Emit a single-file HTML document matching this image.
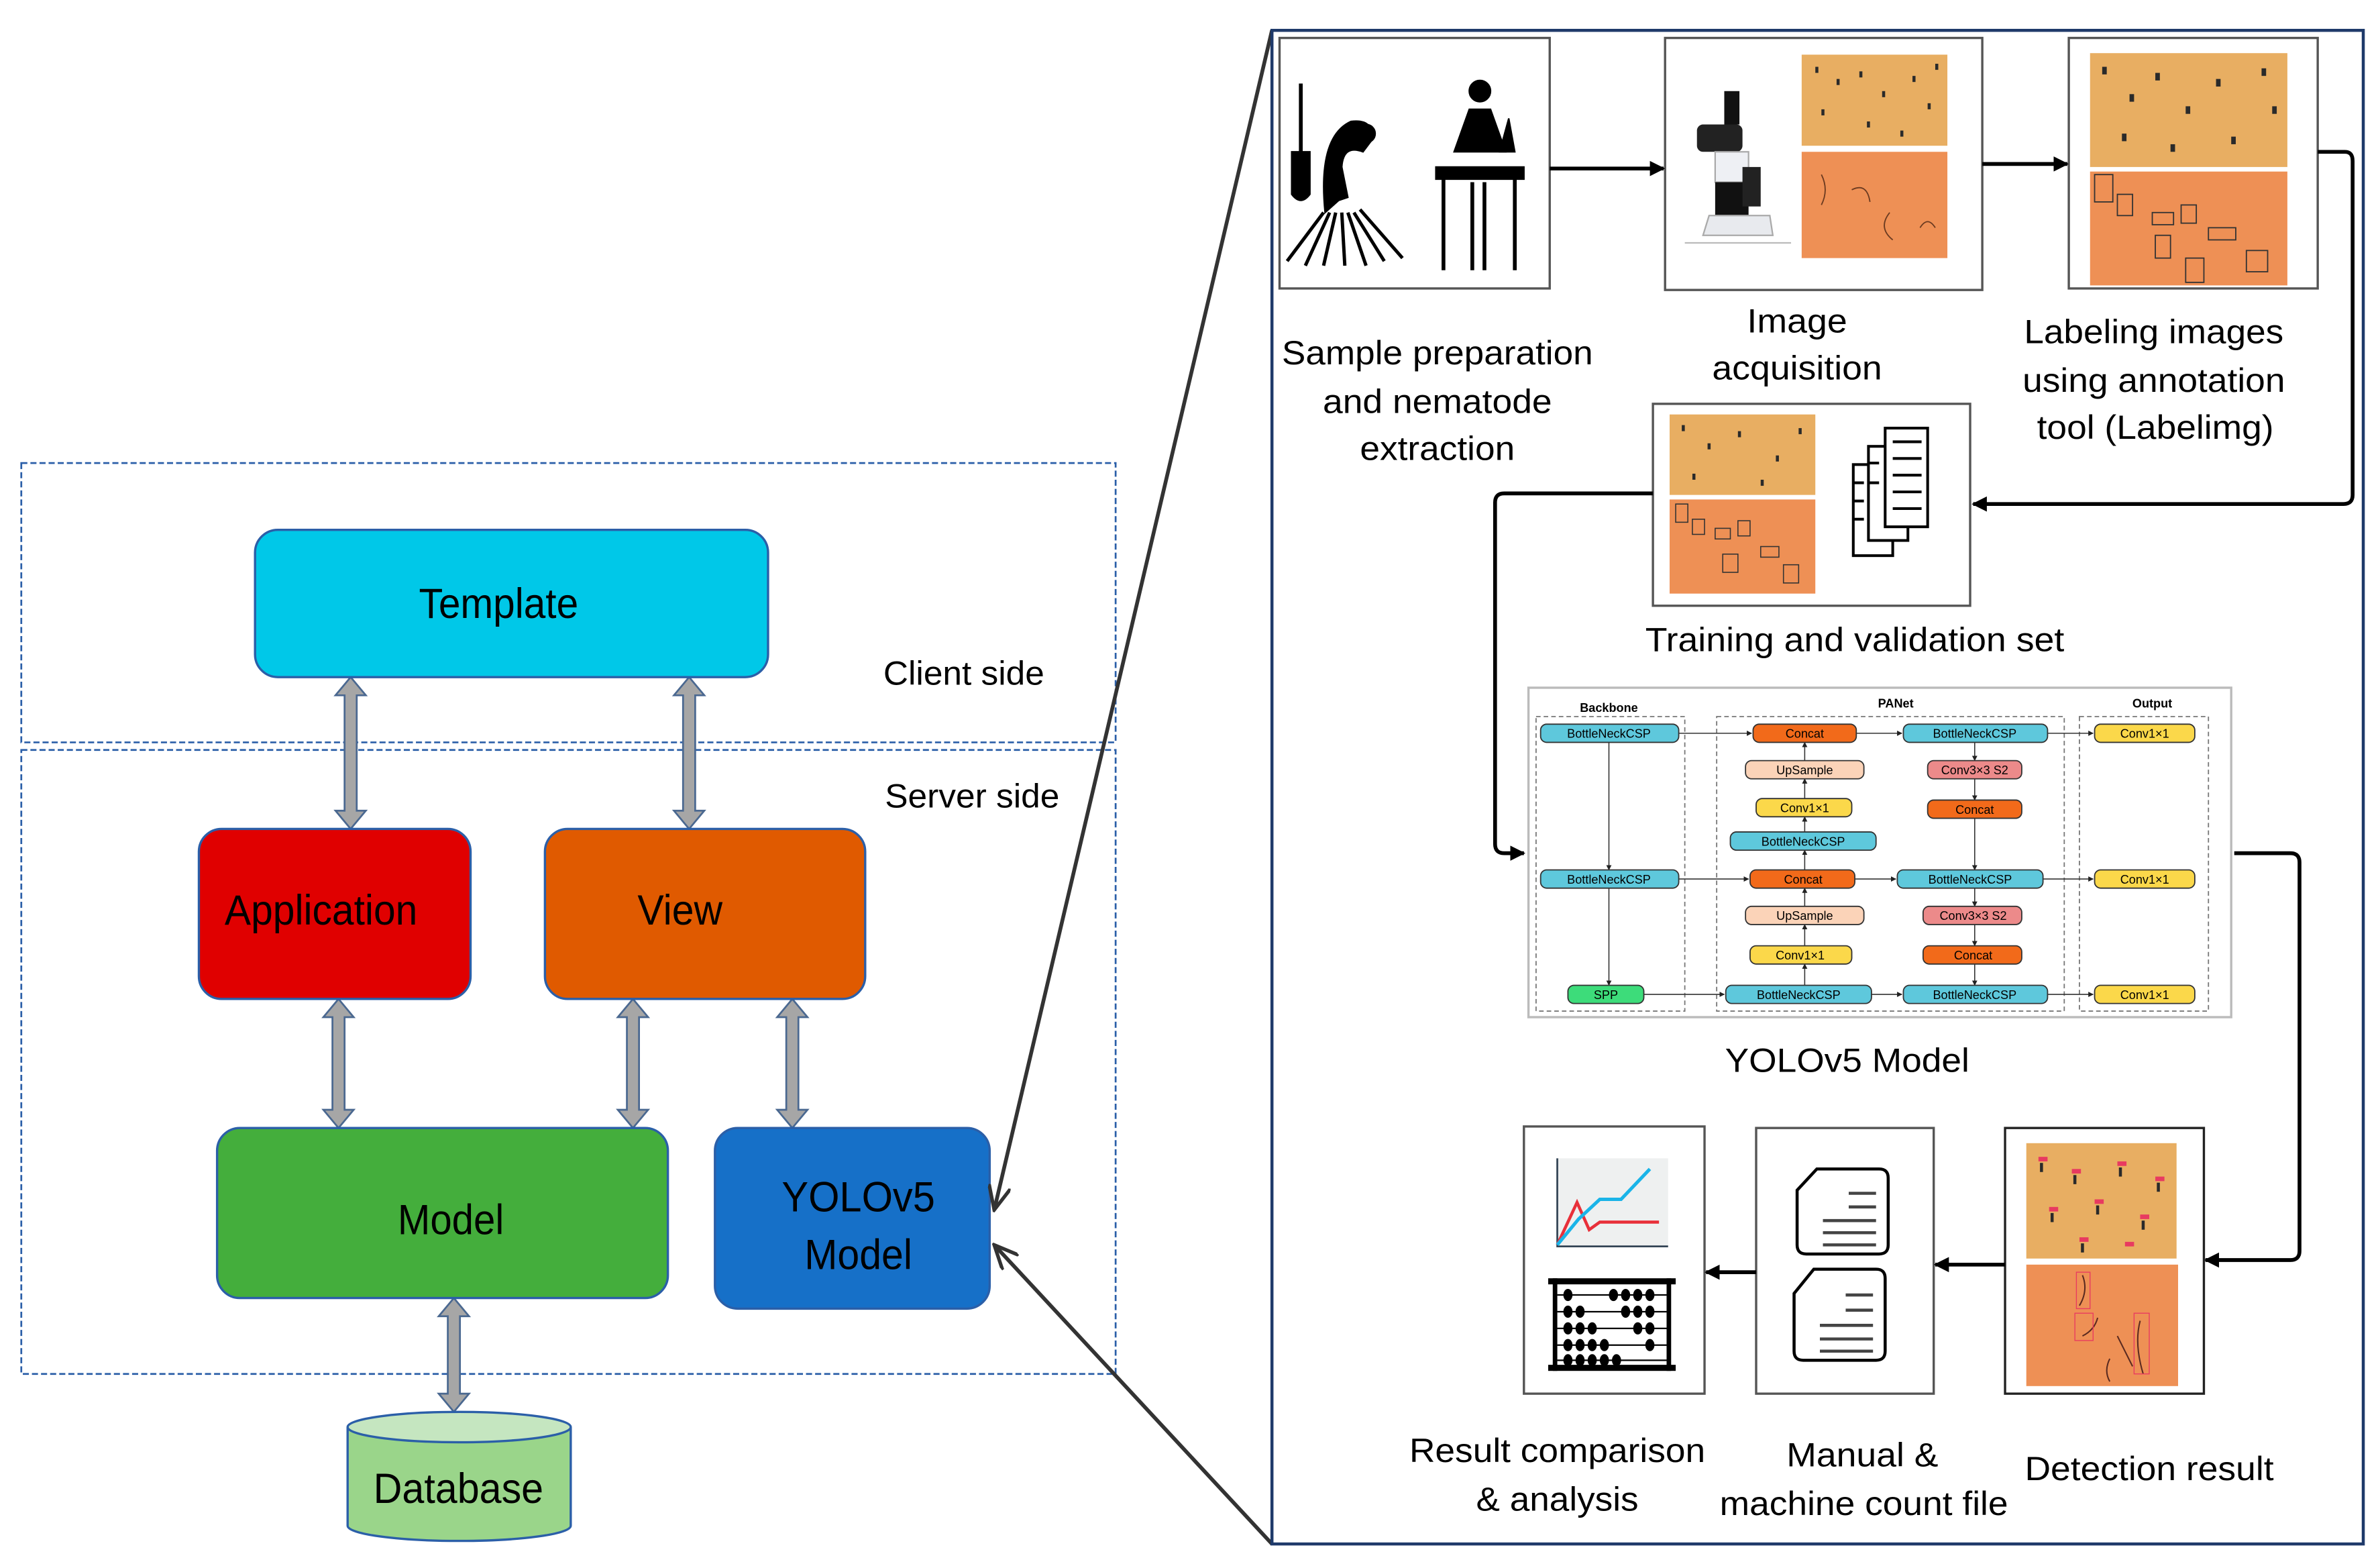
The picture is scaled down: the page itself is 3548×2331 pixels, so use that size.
<!DOCTYPE html>
<html><head><meta charset="utf-8"><style>
html,body{margin:0;padding:0;background:#fff}
svg{display:block}
text{font-family:"Liberation Sans",Arial,sans-serif;fill:#000}
</style></head><body>
<svg width="3548" height="2331" viewBox="0 0 1568 1030.2" xmlns="http://www.w3.org/2000/svg">
<defs>
<marker id="ah" viewBox="0 0 10 10" refX="9" refY="5" markerWidth="4" markerHeight="4" orient="auto"><path d="M0,0 L10,5 L0,10 z" fill="#000"/></marker>
<marker id="ag" viewBox="0 0 12 10" refX="11" refY="5" markerWidth="7" markerHeight="6" orient="auto"><path d="M0,0 L11,5 L0,10" fill="none" stroke="#333" stroke-width="1.6"/></marker>
<marker id="sm" viewBox="0 0 10 10" refX="9" refY="5" markerWidth="5" markerHeight="5" orient="auto"><path d="M0,0 L10,5 L0,10 z" fill="#222"/></marker>
</defs>

<!-- LEFT: dashed regions -->
<rect x="14" y="305" width="721" height="184" fill="none" stroke="#2b5fa8" stroke-width="1.2" stroke-dasharray="4,2"/>
<rect x="14" y="494" width="721" height="411" fill="none" stroke="#2b5fa8" stroke-width="1.2" stroke-dasharray="4,2"/>

<!-- arrows -->
<g fill="#a6a6a6" stroke="#4a6890" stroke-width="1.2">
<polygon points="231,446 241,458 235,458 235,534 241,534 231,546 221,534 227,534 227,458 221,458"/>
<polygon points="454,446 464,458 458,458 458,534 464,534 454,546 444,534 450,534 450,458 444,458"/>
<polygon points="223,658 233,670 227,670 227,731 233,731 223,743 213,731 219,731 219,670 213,670"/>
<polygon points="417,658 427,670 421,670 421,731 427,731 417,743 407,731 413,731 413,670 407,670"/>
<polygon points="522,658 532,670 526,670 526,731 532,731 522,743 512,731 518,731 518,670 512,670"/>
<polygon points="299,855 309,867 303,867 303,918 309,918 299,930 289,918 295,918 295,867 289,867"/>
</g>

<!-- boxes -->
<rect x="168" y="349" width="338" height="97" rx="15" fill="#00c8e8" stroke="#2b5fa8" stroke-width="1.5"/>
<rect x="131" y="546" width="179" height="112" rx="15" fill="#e00000" stroke="#2b5fa8" stroke-width="1.5"/>
<rect x="359" y="546" width="211" height="112" rx="15" fill="#e05a00" stroke="#2b5fa8" stroke-width="1.5"/>
<rect x="143" y="743" width="297" height="112" rx="15" fill="#44ae3c" stroke="#2b5fa8" stroke-width="1.5"/>
<rect x="471" y="743" width="181" height="119" rx="15" fill="#1670c8" stroke="#2b5fa8" stroke-width="1.5"/>
<!-- database -->
<path d="M229,940 L229,1005 A73.5,10 0 0 0 376,1005 L376,940" fill="#9ad58a" stroke="#2b5fa8" stroke-width="1.5"/>
<ellipse cx="302.5" cy="940" rx="73.5" ry="10" fill="#c5e6c0" stroke="#2b5fa8" stroke-width="1.5"/>

<g font-size="28">
<text x="276" y="407" textLength="105" lengthAdjust="spacingAndGlyphs">Template</text>
<text x="148" y="609" textLength="127" lengthAdjust="spacingAndGlyphs">Application</text>
<text x="420" y="609" textLength="56" lengthAdjust="spacingAndGlyphs">View</text>
<text x="262" y="813" textLength="70" lengthAdjust="spacingAndGlyphs">Model</text>
<text x="515" y="798" textLength="101" lengthAdjust="spacingAndGlyphs">YOLOv5</text>
<text x="530" y="836" textLength="71" lengthAdjust="spacingAndGlyphs">Model</text>
<text x="246" y="990" textLength="112" lengthAdjust="spacingAndGlyphs">Database</text>
</g>
<g font-size="22">
<text x="582" y="451" textLength="106" lengthAdjust="spacingAndGlyphs">Client side</text>
<text x="583" y="532" textLength="115" lengthAdjust="spacingAndGlyphs">Server side</text>
</g>

<!-- zoom lines -->
<line x1="838" y1="20" x2="655" y2="797" stroke="#333" stroke-width="2.5" marker-end="url(#ag)"/>
<line x1="838" y1="1017" x2="655" y2="820" stroke="#333" stroke-width="2.5" marker-end="url(#ag)"/>

<!-- RIGHT panel -->
<rect x="838" y="20" width="719" height="997" fill="none" stroke="#1f3a6a" stroke-width="2"/>

<!-- box1: icons -->
<rect x="843" y="25" width="178" height="165" fill="#fff" stroke="#555" stroke-width="1.5"/>
<g fill="#000" stroke="#000">
<line x1="857" y1="55" x2="857" y2="100" stroke-width="2.5"/>
<path d="M851,100 L863,100 L863,128 Q857,136 851,128 Z"/>
<path d="M873,140 Q868,90 890,80 Q905,78 904,92 L898,100 Q885,95 884,110 L888,130 L882,132 Z"/>
<circle cx="900" cy="88" r="6"/>
<g stroke-width="2.2" fill="none"><line x1="872" y1="140" x2="848" y2="172"/><line x1="876" y1="140" x2="860" y2="175"/><line x1="880" y1="140" x2="872" y2="175"/><line x1="884" y1="140" x2="886" y2="175"/><line x1="888" y1="140" x2="900" y2="175"/><line x1="892" y1="140" x2="912" y2="172"/><line x1="896" y1="138" x2="924" y2="170"/></g>
<circle cx="975" cy="60" r="7"/>
<path d="M958,100 L968,72 L982,72 L992,100 Z"/>
<path d="M988,100 L994,78 L998,100 Z"/>
<rect x="946" y="110" width="58" height="8"/>
<g stroke-width="2.5"><line x1="951" y1="118" x2="951" y2="178"/><line x1="998" y1="118" x2="998" y2="178"/><line x1="970" y1="120" x2="970" y2="178"/><line x1="978" y1="120" x2="978" y2="178"/></g>
</g>

<!-- box2 -->
<rect x="1097" y="25" width="209" height="166" fill="#fff" stroke="#555" stroke-width="1.5"/>
<g>
<rect x="1136" y="60" width="10" height="22" fill="#111"/>
<rect x="1118" y="82" width="30" height="18" rx="4" fill="#222"/>
<rect x="1130" y="100" width="22" height="20" fill="#eef0f4" stroke="#aaa"/>
<rect x="1130" y="120" width="22" height="22" fill="#111"/>
<rect x="1148" y="110" width="12" height="26" fill="#222"/>
<path d="M1126,142 L1166,142 L1168,155 L1122,155 Z" fill="#e8eaee" stroke="#aaa"/>
<line x1="1110" y1="160" x2="1180" y2="160" stroke="#bbb"/>
</g>
<rect x="1187" y="36" width="96" height="60" fill="#e8ae62"/>
<rect x="1187" y="100" width="96" height="70" fill="#ee9055"/>
<g fill="#2a2a2a">
<rect x="1196" y="44" width="2" height="4"/><rect x="1210" y="52" width="2" height="4"/><rect x="1225" y="47" width="2" height="4"/><rect x="1240" y="60" width="2" height="4"/><rect x="1260" y="50" width="2" height="4"/><rect x="1270" y="68" width="2" height="4"/><rect x="1200" y="72" width="2" height="4"/><rect x="1230" y="80" width="2" height="4"/><rect x="1252" y="86" width="2" height="4"/><rect x="1275" y="42" width="2" height="4"/>
</g>
<g stroke="#6a3a20" fill="none" stroke-width="0.8"><path d="M1200,115 q5,10 0,20"/><path d="M1220,125 q10,-5 12,8"/><path d="M1245,140 q-8,10 2,18"/><path d="M1265,150 q5,-8 10,0"/></g>

<!-- box3 -->
<rect x="1363" y="25" width="164" height="165" fill="#fff" stroke="#555" stroke-width="1.5"/>
<rect x="1377" y="35" width="130" height="75" fill="#e8ae62"/>
<rect x="1377" y="113" width="130" height="75" fill="#ee9055"/>
<g fill="#2a2a2a">
<rect x="1385" y="44" width="3" height="5"/><rect x="1403" y="62" width="3" height="5"/><rect x="1420" y="48" width="3" height="5"/><rect x="1440" y="70" width="3" height="5"/><rect x="1460" y="52" width="3" height="5"/><rect x="1490" y="45" width="3" height="5"/><rect x="1398" y="88" width="3" height="5"/><rect x="1430" y="95" width="3" height="5"/><rect x="1470" y="90" width="3" height="5"/><rect x="1497" y="70" width="3" height="5"/>
</g>
<g stroke="#333" fill="none" stroke-width="0.8"><rect x="1380" y="115" width="12" height="18"/><rect x="1395" y="128" width="10" height="14"/><rect x="1418" y="140" width="14" height="8"/><rect x="1437" y="135" width="10" height="12"/><rect x="1420" y="155" width="10" height="15"/><rect x="1455" y="150" width="18" height="8"/><rect x="1440" y="170" width="12" height="16"/><rect x="1480" y="165" width="14" height="14"/></g>

<!-- flow connectors top -->
<line x1="1021" y1="111" x2="1096" y2="111" stroke="#000" stroke-width="2.5" marker-end="url(#ah)"/>
<line x1="1306" y1="108" x2="1362" y2="108" stroke="#000" stroke-width="2.5" marker-end="url(#ah)"/>
<path d="M1527,100 L1545,100 Q1550,100 1550,106 L1550,326 Q1550,332 1544,332 L1300,332" fill="none" stroke="#000" stroke-width="2.5" marker-end="url(#ah)"/>

<g font-size="22" text-anchor="middle">
<text x="947" y="240" textLength="205" lengthAdjust="spacingAndGlyphs">Sample preparation</text>
<text x="947" y="272" textLength="151" lengthAdjust="spacingAndGlyphs">and nematode</text>
<text x="947" y="303" textLength="102" lengthAdjust="spacingAndGlyphs">extraction</text>
<text x="1184" y="219" textLength="66" lengthAdjust="spacingAndGlyphs">Image</text>
<text x="1184" y="250" textLength="112" lengthAdjust="spacingAndGlyphs">acquisition</text>
<text x="1419" y="226" textLength="171" lengthAdjust="spacingAndGlyphs">Labeling images</text>
<text x="1419" y="258" textLength="173" lengthAdjust="spacingAndGlyphs">using annotation</text>
<text x="1420" y="289" textLength="156" lengthAdjust="spacingAndGlyphs">tool (Labelimg)</text>
<text x="1222" y="429" textLength="276" lengthAdjust="spacingAndGlyphs">Training and validation set</text>
<text x="1217" y="706" textLength="161" lengthAdjust="spacingAndGlyphs">YOLOv5 Model</text>
<text x="1026" y="963" textLength="195" lengthAdjust="spacingAndGlyphs">Result comparison</text>
<text x="1026" y="995" textLength="107" lengthAdjust="spacingAndGlyphs">&amp; analysis</text>
<text x="1227" y="966" textLength="100" lengthAdjust="spacingAndGlyphs">Manual &amp;</text>
<text x="1228" y="998" textLength="190" lengthAdjust="spacingAndGlyphs">machine count file</text>
<text x="1416" y="975" textLength="164" lengthAdjust="spacingAndGlyphs">Detection result</text>
</g>

<!-- training box -->
<rect x="1089" y="266" width="209" height="133" fill="#fff" stroke="#555" stroke-width="1.5"/>
<rect x="1100" y="273" width="96" height="53" fill="#e8ae62"/>
<rect x="1100" y="329" width="96" height="62" fill="#ee9055"/>
<g fill="#2a2a2a"><rect x="1108" y="280" width="2" height="4"/><rect x="1125" y="292" width="2" height="4"/><rect x="1145" y="284" width="2" height="4"/><rect x="1170" y="300" width="2" height="4"/><rect x="1185" y="282" width="2" height="4"/><rect x="1115" y="312" width="2" height="4"/><rect x="1160" y="316" width="2" height="4"/></g>
<g stroke="#333" fill="none" stroke-width="0.7"><rect x="1104" y="332" width="8" height="12"/><rect x="1115" y="342" width="8" height="10"/><rect x="1130" y="348" width="10" height="7"/><rect x="1145" y="343" width="8" height="10"/><rect x="1135" y="365" width="10" height="12"/><rect x="1160" y="360" width="12" height="7"/><rect x="1175" y="372" width="10" height="12"/></g>
<g fill="#fff" stroke="#000" stroke-width="1.8">
<rect x="1221" y="306" width="26" height="60"/>
<rect x="1231" y="294" width="26" height="62"/>
<rect x="1242" y="282" width="28" height="65"/>
</g>
<g stroke="#000" stroke-width="1.8"><line x1="1247" y1="291" x2="1266" y2="291"/><line x1="1247" y1="302" x2="1266" y2="302"/><line x1="1247" y1="313" x2="1266" y2="313"/><line x1="1247" y1="324" x2="1266" y2="324"/><line x1="1247" y1="335" x2="1266" y2="335"/><line x1="1221" y1="318" x2="1228" y2="318"/><line x1="1221" y1="330" x2="1228" y2="330"/><line x1="1221" y1="342" x2="1228" y2="342"/><line x1="1231" y1="305" x2="1238" y2="305"/><line x1="1231" y1="318" x2="1238" y2="318"/></g>

<path d="M1089,325 L991,325 Q985,325 985,331 L985,556 Q985,562 991,562 L1004,562" fill="none" stroke="#000" stroke-width="2.5" marker-end="url(#ah)"/>

<!-- YOLO network -->
<rect x="1007" y="453" width="463" height="217" fill="#fff" stroke="#bbb" stroke-width="1.5"/>
<g fill="none" stroke="#777" stroke-width="0.8" stroke-dasharray="3,2">
<rect x="1012" y="472" width="98" height="194"/>
<rect x="1131" y="472" width="229" height="194"/>
<rect x="1370" y="472" width="85" height="194"/>
</g>
<g font-size="8" font-weight="bold" text-anchor="middle">
<text x="1060" y="469">Backbone</text><text x="1249" y="466">PANet</text><text x="1418" y="466">Output</text>
</g>
<g stroke="#333" stroke-width="0.7">
<line x1="1060" y1="489" x2="1060" y2="573" marker-end="url(#sm)"/>
<line x1="1060" y1="585" x2="1060" y2="649" marker-end="url(#sm)"/>
<line x1="1106" y1="483" x2="1154" y2="483" marker-end="url(#sm)"/>
<line x1="1106" y1="579" x2="1152" y2="579" marker-end="url(#sm)"/>
<line x1="1083" y1="655" x2="1136" y2="655" marker-end="url(#sm)"/>
<line x1="1223" y1="483" x2="1253" y2="483" marker-end="url(#sm)"/>
<line x1="1222" y1="579" x2="1249" y2="579" marker-end="url(#sm)"/>
<line x1="1233" y1="655" x2="1253" y2="655" marker-end="url(#sm)"/>
<line x1="1349" y1="483" x2="1379" y2="483" marker-end="url(#sm)"/>
<line x1="1346" y1="579" x2="1379" y2="579" marker-end="url(#sm)"/>
<line x1="1349" y1="655" x2="1379" y2="655" marker-end="url(#sm)"/>
<line x1="1189" y1="649" x2="1189" y2="635" marker-end="url(#sm)"/>
<line x1="1189" y1="623" x2="1189" y2="609" marker-end="url(#sm)"/>
<line x1="1189" y1="597" x2="1189" y2="585" marker-end="url(#sm)"/>
<line x1="1189" y1="573" x2="1189" y2="560" marker-end="url(#sm)"/>
<line x1="1189" y1="548" x2="1189" y2="538" marker-end="url(#sm)"/>
<line x1="1189" y1="526" x2="1189" y2="513" marker-end="url(#sm)"/>
<line x1="1189" y1="501" x2="1189" y2="489" marker-end="url(#sm)"/>
<line x1="1301" y1="489" x2="1301" y2="501" marker-end="url(#sm)"/>
<line x1="1301" y1="513" x2="1301" y2="527" marker-end="url(#sm)"/>
<line x1="1301" y1="539" x2="1301" y2="573" marker-end="url(#sm)"/>
<line x1="1301" y1="585" x2="1301" y2="597" marker-end="url(#sm)"/>
<line x1="1301" y1="609" x2="1301" y2="623" marker-end="url(#sm)"/>
<line x1="1301" y1="635" x2="1301" y2="649" marker-end="url(#sm)"/>
</g>
<g stroke="#333" stroke-width="0.8">
<rect x="1015" y="477" width="91" height="12" rx="4" fill="#5ec8dc"/>
<rect x="1015" y="573" width="91" height="12" rx="4" fill="#5ec8dc"/>
<rect x="1033" y="649" width="50" height="12" rx="4" fill="#3ddc7a"/>
<rect x="1155" y="477" width="68" height="12" rx="4" fill="#f26a1a"/>
<rect x="1150" y="501" width="78" height="12" rx="4" fill="#fbd3b8"/>
<rect x="1157" y="526" width="63" height="12" rx="4" fill="#fbd84a"/>
<rect x="1140" y="548" width="96" height="12" rx="4" fill="#5ec8dc"/>
<rect x="1153" y="573" width="69" height="12" rx="4" fill="#f26a1a"/>
<rect x="1150" y="597" width="78" height="12" rx="4" fill="#fbd3b8"/>
<rect x="1153" y="623" width="67" height="12" rx="4" fill="#fbd84a"/>
<rect x="1137" y="649" width="96" height="12" rx="4" fill="#5ec8dc"/>
<rect x="1254" y="477" width="95" height="12" rx="4" fill="#5ec8dc"/>
<rect x="1270" y="501" width="62" height="12" rx="4" fill="#ec8a8a"/>
<rect x="1270" y="527" width="62" height="12" rx="4" fill="#f26a1a"/>
<rect x="1250" y="573" width="96" height="12" rx="4" fill="#5ec8dc"/>
<rect x="1267" y="597" width="65" height="12" rx="4" fill="#ec8a8a"/>
<rect x="1267" y="623" width="65" height="12" rx="4" fill="#f26a1a"/>
<rect x="1254" y="649" width="95" height="12" rx="4" fill="#5ec8dc"/>
<rect x="1380" y="477" width="66" height="12" rx="4" fill="#fbd84a"/>
<rect x="1380" y="573" width="66" height="12" rx="4" fill="#fbd84a"/>
<rect x="1380" y="649" width="66" height="12" rx="4" fill="#fbd84a"/>
</g>
<g font-size="8" text-anchor="middle" fill="#222">
<text x="1060" y="486">BottleNeckCSP</text><text x="1060" y="582">BottleNeckCSP</text><text x="1058" y="658">SPP</text>
<text x="1189" y="486">Concat</text><text x="1189" y="510">UpSample</text><text x="1189" y="535">Conv1×1</text><text x="1188" y="557">BottleNeckCSP</text><text x="1188" y="582">Concat</text><text x="1189" y="606">UpSample</text><text x="1186" y="632">Conv1×1</text><text x="1185" y="658">BottleNeckCSP</text>
<text x="1301" y="486">BottleNeckCSP</text><text x="1301" y="510">Conv3×3 S2</text><text x="1301" y="536">Concat</text><text x="1298" y="582">BottleNeckCSP</text><text x="1300" y="606">Conv3×3 S2</text><text x="1300" y="632">Concat</text><text x="1301" y="658">BottleNeckCSP</text>
<text x="1413" y="486">Conv1×1</text><text x="1413" y="582">Conv1×1</text><text x="1413" y="658">Conv1×1</text>
</g>

<path d="M1472,562 L1509,562 Q1515,562 1515,568 L1515,824 Q1515,830 1509,830 L1453,830" fill="none" stroke="#000" stroke-width="2.5" marker-end="url(#ah)"/>

<!-- bottom boxes -->
<rect x="1004" y="742" width="119" height="176" fill="#fff" stroke="#555" stroke-width="1.5"/>
<rect x="1157" y="743" width="117" height="175" fill="#fff" stroke="#555" stroke-width="1.5"/>
<rect x="1321" y="743" width="131" height="175" fill="#fff" stroke="#222" stroke-width="1.5"/>
<line x1="1321" y1="833" x2="1275" y2="833" stroke="#000" stroke-width="2.5" marker-end="url(#ah)"/>
<line x1="1157" y1="838" x2="1124" y2="838" stroke="#000" stroke-width="2.5" marker-end="url(#ah)"/>

<!-- chart -->
<rect x="1025" y="763" width="74" height="58" fill="#eef0f0"/>
<path d="M1026,763 L1026,821 L1099,821" fill="none" stroke="#345" stroke-width="1.2"/>
<path d="M1026,820 L1039,792 L1047,810 L1054,805 L1093,805" fill="none" stroke="#e8303a" stroke-width="2"/>
<path d="M1026,820 L1040,803 L1054,790 L1068,790 L1087,770" fill="none" stroke="#1ab4e8" stroke-width="2.2"/>
<!-- abacus -->
<rect x="1020" y="842" width="84" height="4" fill="#000"/>
<rect x="1020" y="899" width="84" height="4" fill="#000"/>
<rect x="1023" y="842" width="3" height="61" fill="#000"/><rect x="1098" y="842" width="3" height="61" fill="#000"/>
<g stroke="#000" stroke-width="1"><line x1="1026" y1="853" x2="1098" y2="853"/><line x1="1026" y1="864" x2="1098" y2="864"/><line x1="1026" y1="875" x2="1098" y2="875"/><line x1="1026" y1="886" x2="1098" y2="886"/><line x1="1026" y1="896" x2="1098" y2="896"/></g>
<g fill="#000">
<ellipse cx="1033" cy="853" rx="3" ry="4"/><ellipse cx="1063" cy="853" rx="3" ry="4"/><ellipse cx="1071" cy="853" rx="3" ry="4"/><ellipse cx="1079" cy="853" rx="3" ry="4"/><ellipse cx="1087" cy="853" rx="3" ry="4"/>
<ellipse cx="1033" cy="864" rx="3" ry="4"/><ellipse cx="1041" cy="864" rx="3" ry="4"/><ellipse cx="1071" cy="864" rx="3" ry="4"/><ellipse cx="1079" cy="864" rx="3" ry="4"/><ellipse cx="1087" cy="864" rx="3" ry="4"/>
<ellipse cx="1033" cy="875" rx="3" ry="4"/><ellipse cx="1041" cy="875" rx="3" ry="4"/><ellipse cx="1049" cy="875" rx="3" ry="4"/><ellipse cx="1079" cy="875" rx="3" ry="4"/><ellipse cx="1087" cy="875" rx="3" ry="4"/>
<ellipse cx="1033" cy="886" rx="3" ry="4"/><ellipse cx="1041" cy="886" rx="3" ry="4"/><ellipse cx="1049" cy="886" rx="3" ry="4"/><ellipse cx="1057" cy="886" rx="3" ry="4"/><ellipse cx="1087" cy="886" rx="3" ry="4"/>
<ellipse cx="1033" cy="896" rx="3" ry="4"/><ellipse cx="1041" cy="896" rx="3" ry="4"/><ellipse cx="1049" cy="896" rx="3" ry="4"/><ellipse cx="1057" cy="896" rx="3" ry="4"/><ellipse cx="1065" cy="896" rx="3" ry="4"/>
</g>
<!-- docs -->
<g fill="#fff" stroke="#000" stroke-width="2">
<path d="M1197,770 L1238,770 Q1244,770 1244,776 L1244,820 Q1244,826 1238,826 L1190,826 Q1184,826 1184,820 L1184,784 Z"/>
<path d="M1195,836 L1236,836 Q1242,836 1242,842 L1242,890 Q1242,896 1236,896 L1188,896 Q1182,896 1182,890 L1182,852 Z"/>
</g>
<g stroke="#444" stroke-width="2"><line x1="1218" y1="786" x2="1236" y2="786"/><line x1="1218" y1="795" x2="1236" y2="795"/><line x1="1201" y1="804" x2="1236" y2="804"/><line x1="1201" y1="812" x2="1236" y2="812"/><line x1="1201" y1="820" x2="1236" y2="820"/>
<line x1="1216" y1="853" x2="1234" y2="853"/><line x1="1216" y1="863" x2="1234" y2="863"/><line x1="1199" y1="873" x2="1234" y2="873"/><line x1="1199" y1="882" x2="1234" y2="882"/><line x1="1199" y1="890" x2="1234" y2="890"/></g>
<!-- detection -->
<rect x="1335" y="753" width="99" height="76" fill="#e8ae62"/>
<rect x="1335" y="833" width="100" height="80" fill="#ee9055"/>
<g fill="#e83a60"><rect x="1343" y="762" width="6" height="3"/><rect x="1365" y="770" width="6" height="3"/><rect x="1395" y="765" width="6" height="3"/><rect x="1420" y="775" width="6" height="3"/><rect x="1350" y="795" width="6" height="3"/><rect x="1380" y="790" width="6" height="3"/><rect x="1410" y="800" width="6" height="3"/><rect x="1370" y="815" width="6" height="3"/><rect x="1400" y="818" width="6" height="3"/></g>
<g fill="#2a2a2a"><rect x="1344" y="766" width="2" height="6"/><rect x="1366" y="774" width="2" height="6"/><rect x="1396" y="769" width="2" height="6"/><rect x="1421" y="779" width="2" height="6"/><rect x="1351" y="799" width="2" height="6"/><rect x="1381" y="794" width="2" height="6"/><rect x="1411" y="804" width="2" height="6"/><rect x="1371" y="819" width="2" height="6"/></g>
<g stroke="#5a2a20" fill="none" stroke-width="0.9"><path d="M1372,840 q4,10 -2,20"/><path d="M1372,880 q8,-4 10,-12"/><path d="M1395,880 l10,20"/><path d="M1410,870 q-4,15 2,35"/><path d="M1390,895 q-4,8 0,15"/></g>
<g stroke="#e83a60" fill="none" stroke-width="0.6"><rect x="1368" y="838" width="9" height="24"/><rect x="1367" y="865" width="12" height="18"/><rect x="1406" y="865" width="10" height="40"/></g>
</svg>
</body></html>
